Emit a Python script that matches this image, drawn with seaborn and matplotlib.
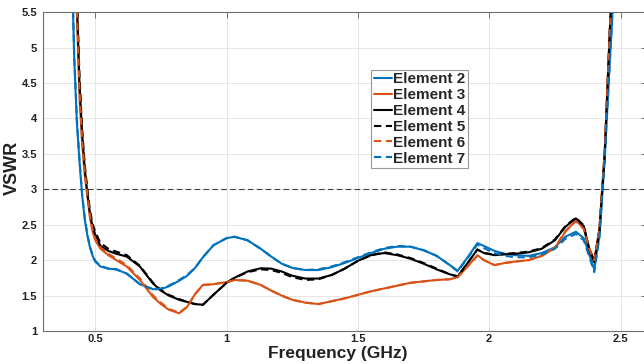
"""
VSWR of array elements vs frequency.
"""

import matplotlib
matplotlib.use("Agg")
import matplotlib.pyplot as plt
import seaborn as sns
import numpy as np
import pandas as pd

sns.set_theme(style="white")
plt.rcParams['font.family'] = ['Liberation Sans', 'DejaVu Sans']
plt.rcParams['font.weight'] = 'bold'

# frequency grid (GHz) shared by all elements
freq = [0.41, 0.42, 0.43, 0.44, 0.45, 0.46, 0.47, 0.48, 0.49, 0.50,
        0.52, 0.55, 0.58, 0.62, 0.67, 0.72, 0.75, 0.78, 0.82, 0.85, 0.88, 0.91, 0.95,
        1.00, 1.03, 1.08, 1.13, 1.17, 1.21, 1.25, 1.30, 1.35, 1.40, 1.45, 1.50, 1.55,
        1.60, 1.65, 1.70, 1.75, 1.80, 1.85, 1.88, 1.92, 1.955, 1.98,
        2.02, 2.06, 2.10, 2.15, 2.20, 2.25, 2.29, 2.33, 2.36, 2.38, 2.40, 2.42,
        2.44, 2.46, 2.48]

el2 = [6.3, 4.85, 3.95, 3.4, 2.92, 2.58, 2.35, 2.18, 2.06, 1.98,
       1.91, 1.88, 1.87, 1.81, 1.66, 1.59, 1.59, 1.63, 1.71, 1.78, 1.89, 2.04, 2.21,
       2.31, 2.33, 2.28, 2.16, 2.05, 1.95, 1.89, 1.86, 1.86, 1.90, 1.96, 2.03, 2.10,
       2.16, 2.19, 2.19, 2.14, 2.06, 1.93, 1.85, 2.05, 2.24, 2.20,
       2.13, 2.09, 2.07, 2.06, 2.10, 2.18, 2.33, 2.40, 2.31, 2.09, 1.87, 2.35,
       3.45, 4.85, 6.2]

el3 = [8.0, 6.6, 5.5, 4.3, 3.65, 3.2, 2.9, 2.6, 2.4, 2.28,
       2.16, 2.07, 2.00, 1.91, 1.72, 1.48, 1.38, 1.30, 1.25, 1.34, 1.52, 1.65, 1.66,
       1.69, 1.72, 1.71, 1.65, 1.57, 1.50, 1.44, 1.40, 1.38, 1.42, 1.46, 1.51, 1.56,
       1.60, 1.64, 1.68, 1.70, 1.72, 1.73, 1.76, 1.92, 2.07, 2.00,
       1.93, 1.96, 1.98, 2.00, 2.06, 2.17, 2.40, 2.56, 2.45, 2.18, 2.00, 2.45,
       3.55, 5.3, 6.8]

el4 = [8.2, 6.8, 5.7, 4.5, 3.8, 3.3, 2.95, 2.66, 2.47, 2.36,
       2.20, 2.13, 2.09, 2.05, 1.91, 1.67, 1.57, 1.50, 1.44, 1.41, 1.38, 1.37, 1.51,
       1.68, 1.75, 1.84, 1.885, 1.88, 1.84, 1.78, 1.74, 1.74, 1.79, 1.88, 1.99, 2.07,
       2.10, 2.07, 2.02, 1.95, 1.87, 1.80, 1.77, 1.97, 2.15, 2.10,
       2.07, 2.08, 2.09, 2.11, 2.16, 2.28, 2.47, 2.59, 2.48, 2.16, 1.97, 2.42,
       3.5, 5.3, 6.8]

el5 = [8.3, 6.9, 5.8, 4.6, 3.85, 3.35, 3.0, 2.70, 2.51, 2.40,
       2.24, 2.16, 2.12, 2.07, 1.92, 1.68, 1.58, 1.51, 1.45, 1.41, 1.38, 1.37, 1.51,
       1.68, 1.75, 1.83, 1.87, 1.86, 1.82, 1.76, 1.72, 1.73, 1.79, 1.88, 1.99, 2.07,
       2.11, 2.08, 2.03, 1.96, 1.88, 1.80, 1.77, 1.97, 2.15, 2.10,
       2.08, 2.09, 2.10, 2.12, 2.17, 2.29, 2.48, 2.60, 2.49, 2.17, 1.98, 2.43,
       3.5, 5.3, 6.8]

el6 = [8.1, 6.7, 5.6, 4.4, 3.7, 3.25, 2.93, 2.63, 2.43, 2.30,
       2.18, 2.09, 2.02, 1.93, 1.74, 1.50, 1.40, 1.31, 1.26, 1.34, 1.52, 1.65, 1.66,
       1.69, 1.72, 1.71, 1.65, 1.57, 1.50, 1.44, 1.40, 1.38, 1.42, 1.46, 1.51, 1.56,
       1.60, 1.64, 1.68, 1.70, 1.72, 1.73, 1.76, 1.92, 2.06, 2.00,
       1.93, 1.96, 1.98, 2.00, 2.06, 2.18, 2.41, 2.55, 2.44, 2.17, 2.00, 2.45,
       3.55, 5.3, 6.8]

el7 = [6.3, 4.9, 4.0, 3.42, 2.94, 2.6, 2.36, 2.19, 2.07, 1.99,
       1.92, 1.88, 1.87, 1.81, 1.66, 1.59, 1.60, 1.64, 1.72, 1.79, 1.89, 2.04, 2.21,
       2.31, 2.33, 2.28, 2.16, 2.05, 1.95, 1.89, 1.86, 1.87, 1.91, 1.97, 2.04, 2.11,
       2.17, 2.20, 2.19, 2.14, 2.06, 1.93, 1.84, 2.04, 2.22, 2.17,
       2.10, 2.06, 2.04, 2.04, 2.08, 2.16, 2.30, 2.37, 2.28, 2.06, 1.83, 2.33,
       3.45, 4.85, 6.2]

labels = ['Element 2', 'Element 3', 'Element 4', 'Element 5', 'Element 6', 'Element 7']
series = [el2, el3, el4, el5, el6, el7]
colors = ['#0072BD', '#D95319', '#000000', '#000000', '#D95319', '#0072BD']
styles = ['-', '-', '-', '--', '--', '--']

fig = plt.figure(figsize=(6.44, 3.64), dpi=100)
ax = fig.add_axes([0.0663, 0.0907, 0.938, 0.876])

for lab, vals, c, ls in zip(labels, series, colors, styles):
    df = pd.DataFrame({'freq': freq, 'vswr': vals})
    sns.lineplot(data=df, x='freq', y='vswr', ax=ax, color=c, lw=1.5,
                 linestyle=ls, label=lab, estimator=None)
    if ls == '--':
        ax.lines[-1].set_dashes((3.5, 2.2))

ax.axhline(3, color='#404040', lw=0.8, linestyle=(0, (5, 3)), zorder=1)

ax.set_xlim(0.3, 2.6)
ax.set_ylim(1, 5.5)
ax.set_xticks([0.5, 1, 1.5, 2, 2.5])
ax.set_xticklabels(['0.5', '1', '1.5', '2', '2.5'])
ax.set_yticks(np.arange(1, 5.51, 0.5))
ax.set_yticklabels(['1', '1.5', '2', '2.5', '3', '3.5', '4', '4.5', '5', '5.5'])
ax.grid(True, color='#e6e6e6', lw=0.7)
ax.set_axisbelow(True)

for s in ax.spines.values():
    s.set_color('#6e6e6e')
    s.set_linewidth(0.8)
ax.tick_params(direction='in', length=4, width=0.7, color='#6e6e6e',
               top=True, right=True, labelsize=8, pad=2.5, labelcolor='#222222')
ax.tick_params(axis='y', pad=4)
for t in ax.get_xticklabels() + ax.get_yticklabels():
    t.set_fontweight('bold')

ax.set_xlabel('Frequency (GHz)', fontsize=12.5, fontweight='bold', color='#222222')
ax.set_ylabel('VSWR', fontsize=13, fontweight='bold', color='#222222')
ax.xaxis.set_label_coords(0.488, -0.047)
ax.yaxis.set_label_coords(-0.036, 0.51)

leg = ax.legend(loc='upper left', bbox_to_anchor=(0.544, 0.818), fontsize=11,
                frameon=True, fancybox=False, borderaxespad=0, borderpad=0.15,
                labelspacing=0.12, handlelength=1.2, handletextpad=0.1)
leg.get_frame().set_edgecolor('#808080')
leg.get_frame().set_linewidth(0.8)
for t in leg.get_texts():
    t.set_fontweight('bold')

fig.savefig('out.png', dpi=100)
